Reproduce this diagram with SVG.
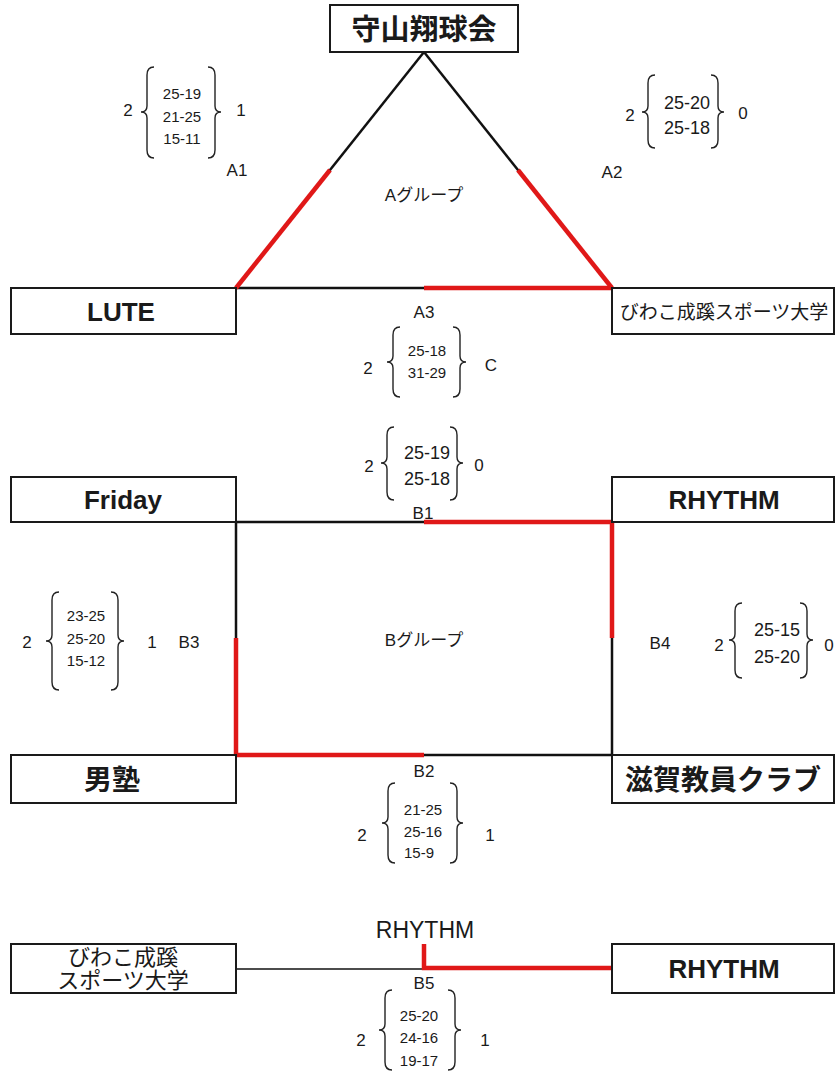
<svg xmlns="http://www.w3.org/2000/svg" width="839" height="1073" viewBox="0 0 839 1073">
<style>
.box{fill:#fff;stroke:#1a1a1a;stroke-width:2}
.t{font-family:"Liberation Sans","Noto Sans CJK JP",sans-serif;fill:#1a1a1a;text-anchor:middle;dominant-baseline:central}
.bold{font-weight:bold}
.nm{font-size:26px}
.lb{font-size:17px}
.s3{font-size:15px}
.s2{font-size:18px}
.blk{stroke:#111;stroke-width:2.5;fill:none}
.red{stroke:#e01818;stroke-width:4.5;fill:none}
.br{stroke:#222;stroke-width:1.4;fill:none}
</style>
<rect width="839" height="1073" fill="#fff"/>
<g id="connectors">
  <line class="blk" x1="424" y1="52" x2="236" y2="288"/>
  <line class="blk" x1="424" y1="52" x2="612" y2="288"/>
  <line class="blk" x1="236" y1="288" x2="612" y2="288"/>
  <line class="red" x1="330" y1="170" x2="236" y2="288"/>
  <line class="red" x1="518" y1="170" x2="612" y2="288"/>
  <line class="red" x1="424" y1="288" x2="612" y2="288"/>
  <rect class="blk" x="236" y="522" width="376" height="233"/>
  <line class="red" x1="424" y1="522" x2="612" y2="522"/>
  <line class="red" x1="612" y1="522" x2="612" y2="638"/>
  <line class="red" x1="236" y1="638" x2="236" y2="755"/>
  <line class="red" x1="236" y1="755" x2="424" y2="755"/>
  <line stroke="#111" stroke-width="1.5" x1="236" y1="969" x2="424" y2="969"/>
  <polyline class="red" points="424,944 424,968 612,968"/>
</g>
<g id="node-moriyama"><rect class="box" x="330" y="5" width="188" height="47"/><text class="t bold" x="424" y="30" font-size="29">守山翔球会</text></g>
<g id="node-lute"><rect class="box" x="11" y="288" width="225" height="46"/><text class="t bold nm" x="121" y="312">LUTE</text></g>
<g id="node-biwako-a"><rect class="box" x="612" y="288" width="222" height="46"/><text class="t" x="724" y="312" font-size="19">びわこ成蹊スポーツ大学</text></g>
<g id="node-friday"><rect class="box" x="11" y="477" width="225" height="45"/><text class="t bold nm" x="123" y="500">Friday</text></g>
<g id="node-rhythm-b"><rect class="box" x="612" y="477" width="222" height="45"/><text class="t bold nm" x="724" y="500">RHYTHM</text></g>
<g id="node-otokojuku"><rect class="box" x="11" y="755" width="225" height="48"/><text class="t bold" x="112" y="780" font-size="28">男塾</text></g>
<g id="node-shiga"><rect class="box" x="612" y="755" width="222" height="48"/><text class="t bold" x="723" y="780" font-size="28">滋賀教員クラブ</text></g>
<g id="node-biwako-b5"><rect class="box" x="11" y="944" width="225" height="49"/><text class="t" x="123" y="957" font-size="22">びわこ成蹊</text><text class="t" x="123" y="980" font-size="22">スポーツ大学</text></g>
<g id="node-rhythm-b5"><rect class="box" x="612" y="944" width="222" height="49"/><text class="t bold nm" x="724" y="969">RHYTHM</text></g>
<g id="group-labels">
  <text class="t lb" x="424" y="195">Aグループ</text>
  <text class="t lb" x="424" y="640">Bグループ</text>
</g>
<g id="score-A1">
  <path class="br" d="M154 67 Q147 67 147 75 L147 106 Q147 112 141 112 Q147 112 147 118 L147 150 Q147 158 154 158"/>
  <path class="br" d="M208 67 Q215 67 215 75 L215 106 Q215 112 221 112 Q215 112 215 118 L215 150 Q215 158 208 158"/>
  <text class="t lb" x="128" y="110">2</text>
  <text class="t s3" x="182" y="93">25-19</text><text class="t s3" x="182" y="116">21-25</text><text class="t s3" x="182" y="138">15-11</text>
  <text class="t lb" x="241" y="110">1</text>
  <text class="t lb" x="237" y="170">A1</text>
</g>
<g id="score-A2">
  <path class="br" d="M655 75 Q648 75 648 83 L648 106 Q648 112 642 112 Q648 112 648 118 L648 140 Q648 148 655 148"/>
  <path class="br" d="M711 75 Q718 75 718 83 L718 106 Q718 112 724 112 Q718 112 718 118 L718 140 Q718 148 711 148"/>
  <text class="t lb" x="630" y="115">2</text>
  <text class="t s2" x="687" y="103">25-20</text><text class="t s2" x="687" y="128">25-18</text>
  <text class="t lb" x="743" y="113">0</text>
  <text class="t lb" x="612" y="172">A2</text>
</g>
<g id="score-A3">
  <text class="t lb" x="424" y="312">A3</text>
  <path class="br" d="M400 327 Q393 327 393 335 L393 356 Q393 362 387 362 Q393 362 393 368 L393 389 Q393 397 400 397"/>
  <path class="br" d="M453 327 Q460 327 460 335 L460 356 Q460 362 466 362 Q460 362 460 368 L460 389 Q460 397 453 397"/>
  <text class="t lb" x="368" y="368">2</text>
  <text class="t s3" x="427" y="350">25-18</text><text class="t s3" x="427" y="372">31-29</text>
  <text class="t lb" x="491" y="365">C</text>
</g>
<g id="score-B1">
  <path class="br" d="M394 427 Q387 427 387 435 L387 457 Q387 463 381 463 Q387 463 387 469 L387 492 Q387 500 394 500"/>
  <path class="br" d="M450 427 Q457 427 457 435 L457 457 Q457 463 463 463 Q457 463 457 469 L457 492 Q457 500 450 500"/>
  <text class="t lb" x="369" y="466">2</text>
  <text class="t s2" x="427" y="453">25-19</text><text class="t s2" x="427" y="479">25-18</text>
  <text class="t lb" x="479" y="465">0</text>
  <text class="t lb" x="423" y="513">B1</text>
</g>
<g id="score-B3">
  <path class="br" d="M59 592 Q52 592 52 600 L52 635 Q52 641 46 641 Q52 641 52 647 L52 682 Q52 690 59 690"/>
  <path class="br" d="M111 592 Q118 592 118 600 L118 635 Q118 641 124 641 Q118 641 118 647 L118 682 Q118 690 111 690"/>
  <text class="t lb" x="27" y="642">2</text>
  <text class="t s3" x="86" y="615">23-25</text><text class="t s3" x="86" y="638">25-20</text><text class="t s3" x="86" y="660">15-12</text>
  <text class="t lb" x="152" y="642">1</text>
  <text class="t lb" x="189" y="642">B3</text>
</g>
<g id="score-B4">
  <text class="t lb" x="660" y="643">B4</text>
  <path class="br" d="M742 603 Q735 603 735 611 L735 634 Q735 640 729 640 Q735 640 735 646 L735 670 Q735 678 742 678"/>
  <path class="br" d="M800 603 Q807 603 807 611 L807 634 Q807 640 813 640 Q807 640 807 646 L807 670 Q807 678 800 678"/>
  <text class="t lb" x="719" y="645">2</text>
  <text class="t s2" x="777" y="630">25-15</text><text class="t s2" x="777" y="657">25-20</text>
  <text class="t lb" x="829" y="645">0</text>
</g>
<g id="score-B2">
  <text class="t lb" x="424" y="771">B2</text>
  <path class="br" d="M395 783 Q388 783 388 791 L388 817 Q388 823 382 823 Q388 823 388 829 L388 855 Q388 863 395 863"/>
  <path class="br" d="M450 783 Q457 783 457 791 L457 817 Q457 823 463 823 Q457 823 457 829 L457 855 Q457 863 450 863"/>
  <text class="t lb" x="362" y="835">2</text>
  <text class="t s3" x="423" y="809">21-25</text><text class="t s3" x="423" y="831">25-16</text><text class="t s3" x="419" y="852">15-9</text>
  <text class="t lb" x="490" y="835">1</text>
</g>
<g id="score-B5">
  <text class="t" x="425" y="930" font-size="23">RHYTHM</text>
  <text class="t lb" x="424" y="983">B5</text>
  <path class="br" d="M392 990 Q385 990 385 998 L385 1024 Q385 1030 379 1030 Q385 1030 385 1036 L385 1062 Q385 1070 392 1070"/>
  <path class="br" d="M448 990 Q455 990 455 998 L455 1024 Q455 1030 461 1030 Q455 1030 455 1036 L455 1062 Q455 1070 448 1070"/>
  <text class="t lb" x="361" y="1040">2</text>
  <text class="t s3" x="419" y="1015">25-20</text><text class="t s3" x="419" y="1037">24-16</text><text class="t s3" x="419" y="1060">19-17</text>
  <text class="t lb" x="485" y="1040">1</text>
</g>
</svg>
